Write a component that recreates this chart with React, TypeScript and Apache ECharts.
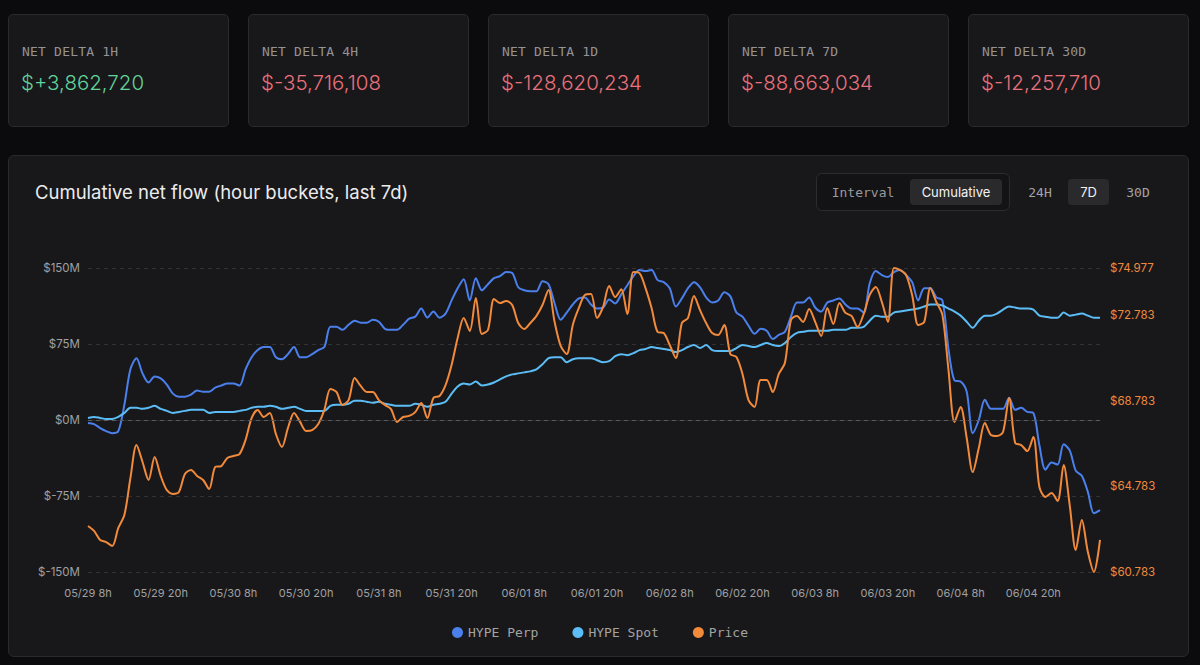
import React, { useEffect, useRef } from "react";
import * as echarts from "echarts";

// ---------- DATA ----------
const DAYS = ["05/29", "05/30", "05/31", "06/01", "06/02", "06/03", "06/04", "06/05"];
const START_HOUR = 8;
const POINT_COUNT = 168;

const SERIES_NAMES = ["HYPE Perp", "HYPE Spot", "Price"];

// cumulative net flow, $M
const perp = [
  -3, -4, -8, -11, -13, -11, 15, 50, 61, 46,
  37, 43, 41, 35, 26, 23, 23, 25, 29, 28,
  28, 32, 34, 36, 36, 34, 50, 62, 69, 72,
  72, 62, 60, 65, 72, 62, 62, 65, 69, 72,
  92, 92, 89, 94, 98, 96, 96, 99, 97, 90,
  89, 89, 94, 100, 102, 110, 101, 107, 101, 105,
  118, 130, 139, 118, 140, 128, 134, 140, 142, 146,
  145, 131, 128, 127, 127, 137, 134, 115, 99, 106,
  114, 120, 121, 114, 110, 111, 119, 115, 124, 133,
  142, 148, 147, 148, 138, 136, 130, 112, 120, 130,
  136, 131, 121, 116, 118, 126, 122, 106, 102, 93,
  85, 90, 88, 80, 84, 87, 102, 116, 116, 121,
  111, 107, 116, 118, 120, 114, 110, 110, 106, 135,
  147, 143, 141, 146, 148, 143, 136, 118, 130, 130,
  121, 118, 70, 39, 38, 28, -13, 0, 20, 11,
  11, 11, 22, 10, 12, 8, 7, -25, -49, -42,
  -44, -24, -30, -50, -55, -71, -92, -89,
];

const spot = [
  2, 3, 2, 1, 1, 3, 7, 12, 12, 11,
  12, 14, 11, 9, 7, 8, 9, 10, 10, 10,
  7, 8, 8, 8, 8, 9, 10, 12, 13, 13,
  14, 13, 11, 12, 13, 11, 9, 9, 9, 9,
  14, 15, 15, 16, 19, 19, 18, 17, 18, 16,
  15, 14, 14, 14, 16, 15, 13, 15, 16, 18,
  26, 33, 36, 35, 38, 34, 35, 37, 40, 43,
  45, 46, 47, 48, 50, 55, 61, 62, 62, 57,
  60, 61, 61, 61, 59, 57, 58, 63, 65, 64,
  66, 69, 70, 72, 71, 70, 69, 67, 69, 72,
  74, 71, 74, 69, 68, 68, 68, 71, 74, 73,
  72, 74, 76, 74, 73, 76, 82, 86, 87, 88,
  88, 88, 88, 89, 89, 89, 91, 91, 92, 98,
  103, 102, 102, 106, 107, 108, 109, 110, 112, 114,
  114, 113, 110, 107, 103, 97, 91, 98, 103, 103,
  105, 109, 112, 111, 110, 110, 109, 103, 102, 101,
  101, 106, 103, 104, 105, 103, 101, 101,
];

// HYPE price, $
const price = [
  62.93, 62.7, 62.28, 62.18, 62.0, 62.84, 63.44, 65.17, 66.71, 65.92,
  65.08, 66.15, 65.27, 64.61, 64.43, 64.52, 65.36, 65.55, 65.27, 65.08,
  64.66, 65.69, 65.73, 66.11, 66.2, 66.29, 66.95, 67.97, 68.35, 68.02,
  68.21, 67.23, 66.62, 67.51, 68.21, 67.79, 67.37, 67.41, 67.69, 68.35,
  69.33, 69.19, 68.58, 68.81, 69.84, 69.47, 69.19, 69.19, 68.81, 68.58,
  68.39, 67.79, 68.02, 68.07, 68.25, 68.67, 67.97, 68.91, 69.0, 69.51,
  70.45, 71.71, 72.64, 72.04, 73.58, 71.9, 72.08, 73.53, 73.34, 73.44,
  73.25, 72.41, 72.13, 72.41, 72.74, 73.25, 73.95, 72.46, 71.34, 70.96,
  72.32, 73.11, 73.72, 73.76, 72.64, 73.16, 74.14, 73.62, 73.99, 72.83,
  74.79, 74.74, 74.04, 73.11, 71.99, 71.94, 71.38, 70.77, 72.41, 72.64,
  73.67, 73.01, 72.41, 71.94, 71.85, 72.32, 70.96, 70.82, 70.03, 68.81,
  68.49, 69.75, 69.75, 69.19, 70.03, 70.54, 72.55, 72.74, 72.46, 73.06,
  72.46, 71.8, 73.11, 72.36, 73.34, 72.88, 72.74, 72.22, 72.83, 73.72,
  74.09, 73.39, 72.46, 74.977, 74.88, 74.65, 73.72, 72.32, 72.46, 74.04,
  73.39, 72.78, 70.21, 67.79, 68.49, 67.04, 65.45, 66.57, 67.74, 67.18,
  67.13, 67.32, 68.91, 66.81, 66.71, 66.43, 67.09, 64.75, 64.29, 64.47,
  64.1, 65.78, 63.91, 61.81, 63.21, 61.72, 60.783, 62.28,
];

const flowTicks = { min: -150, max: 150, interval: 75 };
const priceTicks = [60.783, 64.783, 68.783, 72.783, 74.977];

const cards = [
  { label: "NET DELTA 1H", value: "$+3,862,720", up: true },
  { label: "NET DELTA 4H", value: "$-35,716,108", up: false },
  { label: "NET DELTA 1D", value: "$-128,620,234", up: false },
  { label: "NET DELTA 7D", value: "$-88,663,034", up: false },
  { label: "NET DELTA 30D", value: "$-12,257,710", up: false },
];

const TITLE = "Cumulative net flow (hour buckets, last 7d)";

// ---------- STYLE ----------
const COLORS = ["#4b80ec", "#5cbdf6", "#f28a3c"];
const SANS = "Inter, 'Noto Sans', sans-serif";
const MONO = "'DejaVu Sans Mono', 'Liberation Mono', monospace";

const categories = Array.from({ length: POINT_COUNT }, (_, i) => {
  const h = START_HOUR + i;
  return `${DAYS[Math.floor(h / 24)]} ${h % 24}h`;
});

function Chart() {
  const ref = useRef<HTMLDivElement>(null);
  useEffect(() => {
    if (!ref.current) return;
    const chart = echarts.init(ref.current, undefined, { renderer: "svg" });
    chart.setOption({
      animation: false,
      backgroundColor: "transparent",
      textStyle: { fontFamily: SANS },
      tooltip: { trigger: "axis" },
      grid: { left: 88, right: 100, top: 268, bottom: 93 },
      legend: {
        data: SERIES_NAMES,
        top: 621,
        left: "center",
        icon: "circle",
        itemWidth: 11,
        itemHeight: 11,
        itemGap: 34,
        textStyle: { color: "#a3a3a3", fontFamily: MONO, fontSize: 13 },
      },
      xAxis: {
        type: "category",
        data: categories,
        boundaryGap: false,
        axisLine: { show: true, lineStyle: { color: "#2c2c2f" } },
        axisTick: { show: false },
        axisLabel: { interval: 11, color: "#a0a0a2", fontSize: 11, margin: 15 },
        splitLine: { show: false },
      },
      yAxis: [
        {
          type: "value",
          min: flowTicks.min,
          max: flowTicks.max,
          interval: flowTicks.interval,
          axisLine: { show: false },
          axisTick: { show: false },
          axisLabel: { color: "#a0a0a2", fontSize: 11.5, margin: 8, formatter: (v: number) => `$${v}M` },
          splitLine: { show: true, lineStyle: { color: "#323235", type: [4, 4] } },
        },
        {
          type: "value",
          position: "right",
          min: priceTicks[0],
          max: priceTicks[priceTicks.length - 1],
          axisLine: { show: false },
          axisTick: { show: false },
          splitLine: { show: false },
          axisLabel: {
            customValues: priceTicks,
            color: "#f08a3c",
            fontSize: 11.5,
            margin: 10,
            formatter: (v: number) => `$${v.toFixed(3)}`,
          },
        },
      ],
      series: [
        {
          name: SERIES_NAMES[0],
          type: "line",
          data: perp,
          yAxisIndex: 0,
          smooth: 0.3,
          symbol: "none",
          lineStyle: { width: 2, color: COLORS[0] },
          itemStyle: { color: COLORS[0] },
          markLine: {
            silent: true,
            symbol: ["none", "none"],
            label: { show: false },
            lineStyle: { color: "#5c5c60", type: [4, 4], width: 1 },
            data: [{ yAxis: 0 }],
          },
        },
        {
          name: SERIES_NAMES[1],
          type: "line",
          data: spot,
          yAxisIndex: 0,
          smooth: 0.3,
          symbol: "none",
          lineStyle: { width: 2, color: COLORS[1] },
          itemStyle: { color: COLORS[1] },
        },
        {
          name: SERIES_NAMES[2],
          type: "line",
          data: price,
          yAxisIndex: 1,
          smooth: 0.3,
          symbol: "none",
          lineStyle: { width: 2, color: COLORS[2] },
          itemStyle: { color: COLORS[2] },
        },
      ],
    });
    return () => chart.dispose();
  }, []);
  return (
    <div
      ref={ref}
      style={{ position: "absolute", left: 0, top: 0, width: 1200, height: 665 }}
    />
  );
}

export default function App() {
  const abs = (s: React.CSSProperties): React.CSSProperties => ({ position: "absolute", ...s });
  return (
    <div
      style={{
        position: "fixed",
        left: 0,
        top: 0,
        width: 1200,
        height: 665,
        background: "#0b0b0d",
        overflow: "hidden",
        fontFamily: SANS,
      }}
    >
      {cards.map((c, k) => (
        <div
          key={c.label}
          style={abs({
            left: 8 + k * 240,
            top: 14,
            width: 221,
            height: 113,
            boxSizing: "border-box",
            background: "#18181a",
            border: "1px solid #2a2a2d",
            borderRadius: 5,
          })}
        >
          <div
            style={abs({
              left: 13,
              top: 29,
              fontFamily: MONO,
              fontSize: 13,
              color: "#939395",
              letterSpacing: 0.2,
              whiteSpace: "nowrap",
            })}
          >
            {c.label}
          </div>
          <div
            style={abs({
              left: 12,
              top: 55,
              fontSize: 20.5,
              fontWeight: 300,
              color: c.up ? "#62d39c" : "#e8717d",
              whiteSpace: "nowrap",
            })}
          >
            {c.value}
          </div>
        </div>
      ))}

      <div
        style={abs({
          left: 8,
          top: 155,
          width: 1181,
          height: 502,
          boxSizing: "border-box",
          background: "#18181a",
          border: "1px solid #2a2a2d",
          borderRadius: 6,
        })}
      />
      <div style={abs({ left: 35, top: 181, fontSize: 18.5, color: "#ececee", whiteSpace: "nowrap" })}>
        {TITLE}
      </div>

      <div
        style={abs({
          left: 816,
          top: 173,
          width: 194,
          height: 38,
          boxSizing: "border-box",
          background: "#131315",
          border: "1px solid #2c2c2f",
          borderRadius: 6,
        })}
      >
        <div
          style={abs({
            left: 0,
            top: 5,
            width: 92,
            height: 26,
            display: "flex",
            alignItems: "center",
            justifyContent: "center",
            fontFamily: MONO,
            fontSize: 13,
            color: "#9a9a9c",
          })}
        >
          Interval
        </div>
        <div
          style={abs({
            left: 93,
            top: 5,
            width: 92,
            height: 26,
            borderRadius: 4,
            background: "#2a2a2d",
            display: "flex",
            alignItems: "center",
            justifyContent: "center",
            fontSize: 13,
            color: "#f2f2f4",
          })}
        >
          Cumulative
        </div>
      </div>

      <div
        style={abs({
          left: 1020,
          top: 179,
          width: 40,
          height: 26,
          display: "flex",
          alignItems: "center",
          justifyContent: "center",
          fontFamily: MONO,
          fontSize: 13,
          color: "#a3a3a5",
        })}
      >
        24H
      </div>
      <div
        style={abs({
          left: 1068,
          top: 179,
          width: 41,
          height: 26,
          borderRadius: 4,
          background: "#2a2a2d",
          display: "flex",
          alignItems: "center",
          justifyContent: "center",
          fontSize: 13,
          color: "#f2f2f4",
        })}
      >
        7D
      </div>
      <div
        style={abs({
          left: 1118,
          top: 179,
          width: 40,
          height: 26,
          display: "flex",
          alignItems: "center",
          justifyContent: "center",
          fontFamily: MONO,
          fontSize: 13,
          color: "#a3a3a5",
        })}
      >
        30D
      </div>

      <Chart />
    </div>
  );
}
